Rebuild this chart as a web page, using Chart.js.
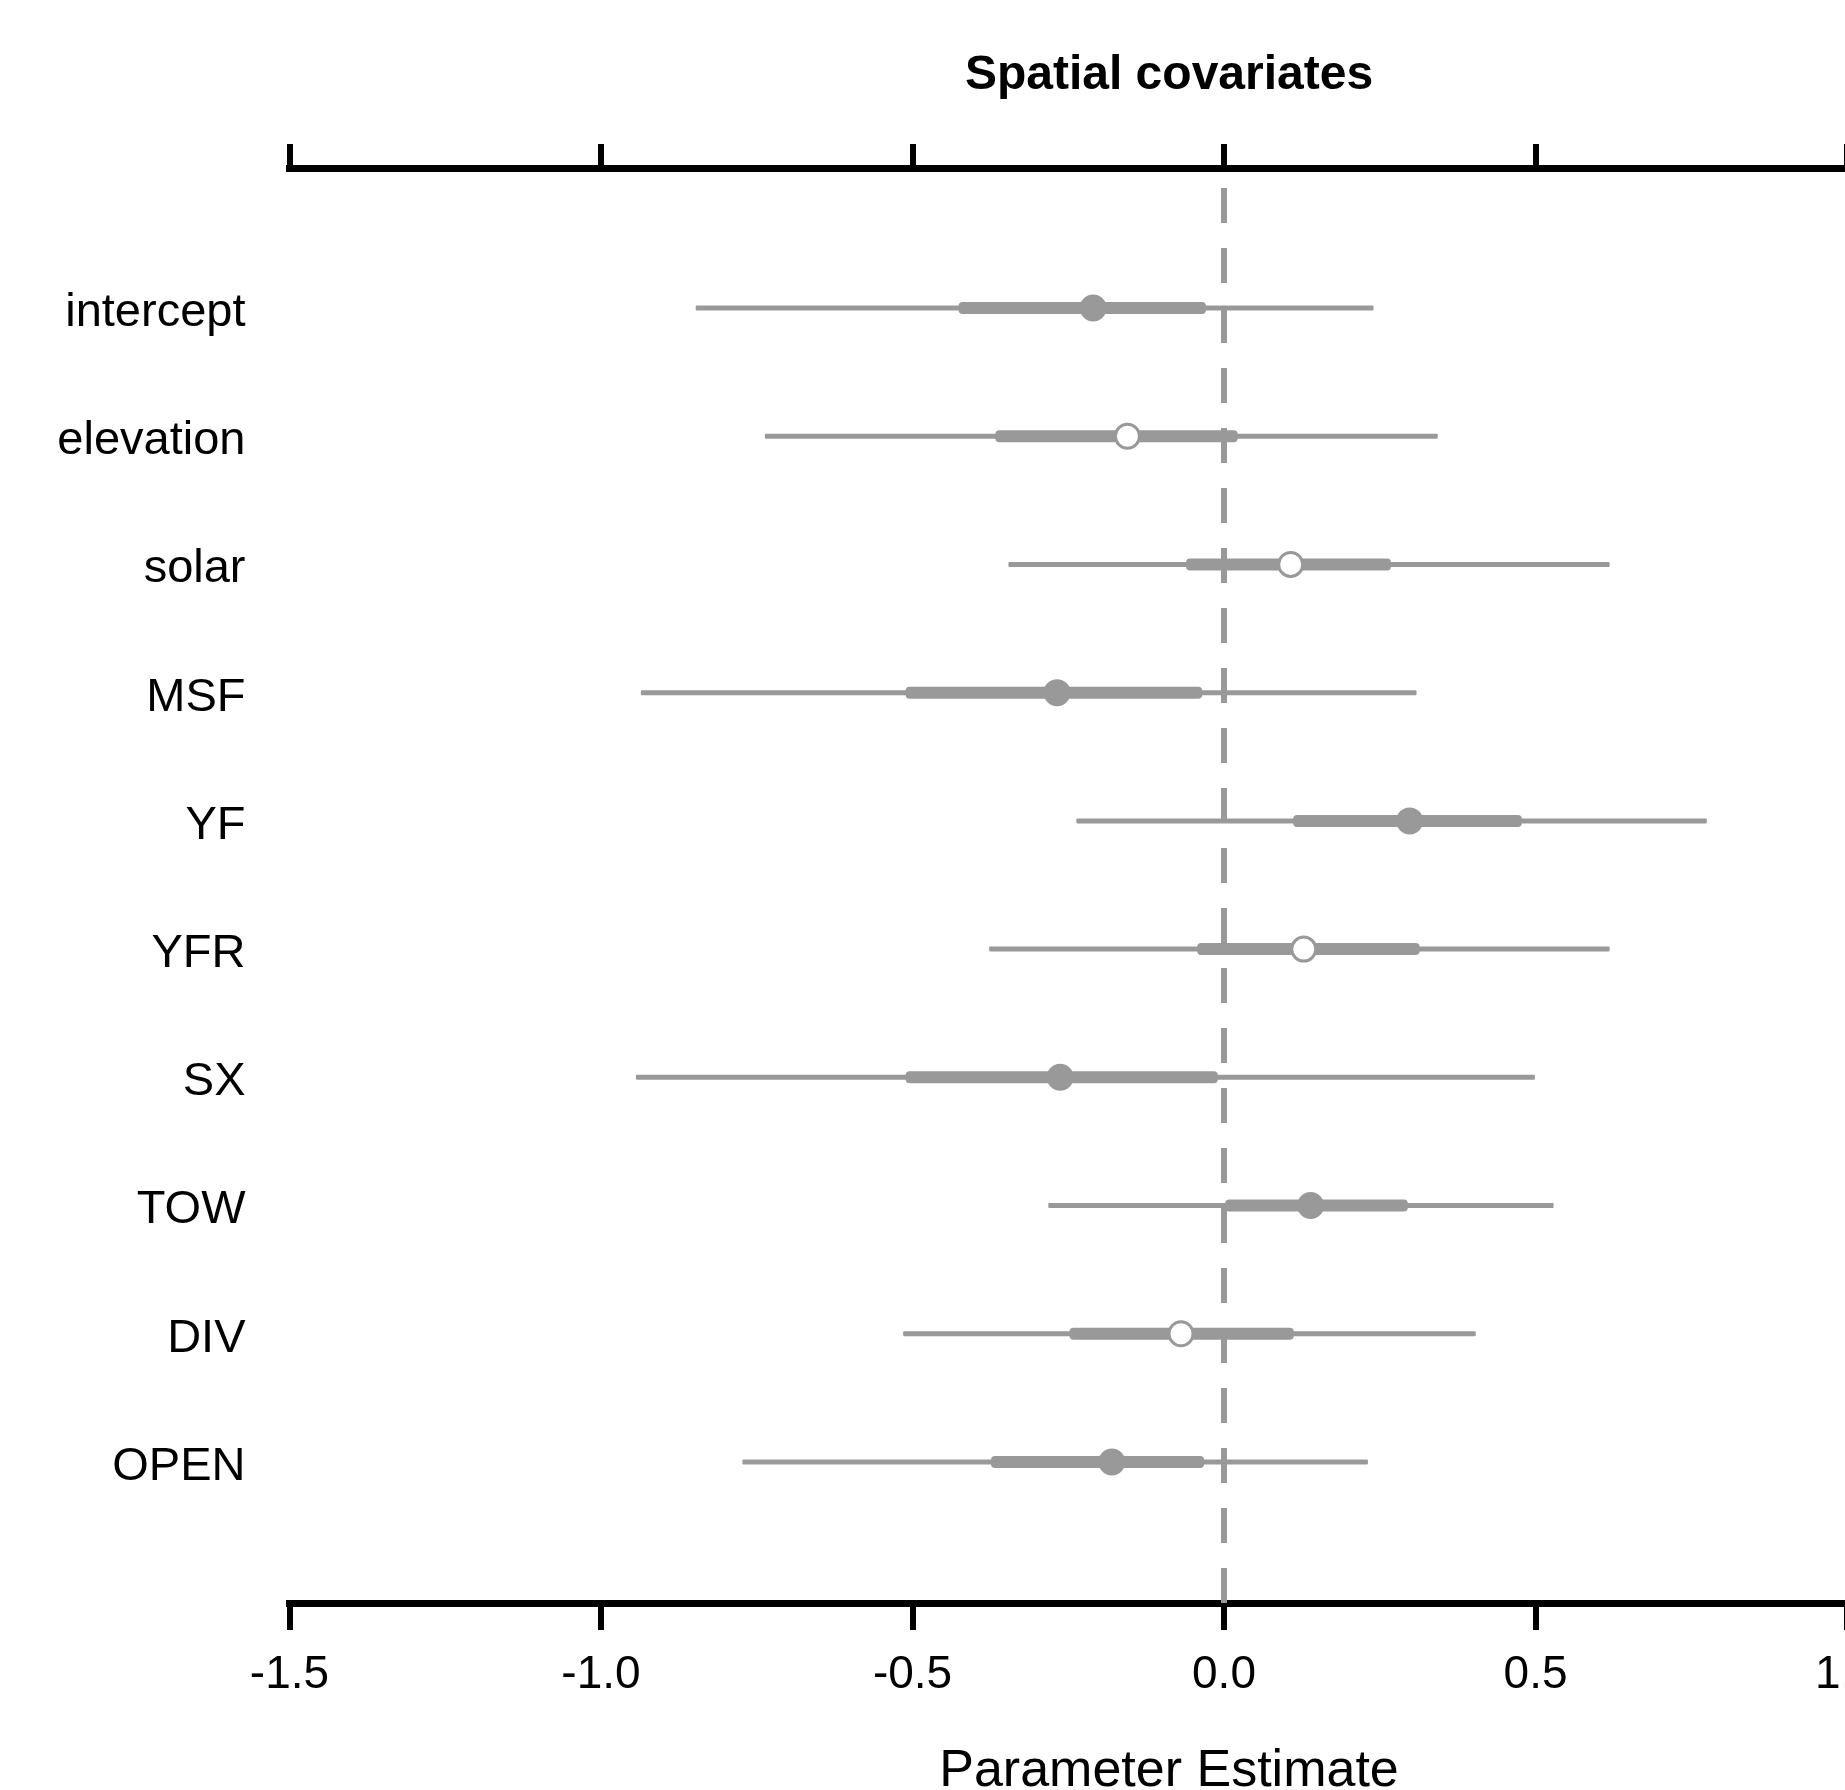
<!DOCTYPE html>
<html>
<head>
<meta charset="utf-8">
<script src="https://cdn.jsdelivr.net/npm/chart.js@4.4.1/dist/chart.umd.min.js"></script>
<style>
html,body{margin:0;padding:0;background:#fff;overflow:hidden}
#wrap{width:1845px;height:1790px;overflow:hidden;position:relative;background:#fff}
canvas{display:block}
</style>
</head>
<body>
<div id="wrap"><canvas id="c" width="2100" height="1790" style="width:2100px;height:1790px"></canvas></div>
<script>
// ---- data ----
const categories = ['intercept','elevation','solar','MSF','YF','YFR','SX','TOW','DIV','OPEN'];
const estimate   = [-0.210,-0.155, 0.107,-0.268, 0.298, 0.128,-0.263, 0.139,-0.069,-0.180];
const lower95    = [-0.848,-0.737,-0.346,-0.936,-0.237,-0.377,-0.944,-0.282,-0.515,-0.773];
const upper95    = [ 0.240, 0.343, 0.619, 0.309, 0.775, 0.619, 0.499, 0.529, 0.404, 0.231];
const lower50    = [-0.426,-0.367,-0.061,-0.511, 0.111,-0.043,-0.511, 0.002,-0.248,-0.374];
const upper50    = [-0.029, 0.022, 0.268,-0.035, 0.478, 0.314,-0.010, 0.295, 0.112,-0.032];
const significant = [true,false,false,true,true,false,true,true,false,true];
const xTicks = [-1.5,-1.0,-0.5,0.0,0.5,1.0];
const xMin = -1.5, xMax = 1.3234;
const yMin = -1.092, yMax = 10.10;

const GRAY = '#999999';
const FONT = "'Liberation Sans', Arial, Helvetica, sans-serif";
const rows = categories.map((_, i) => i);

new Chart(document.getElementById('c'), {
  type: 'bar',
  data: {
    datasets: [
      {
        type: 'scatter',
        label: 'estimate',
        data: rows.map(i => ({x: estimate[i], y: i})),
        pointRadius: 12,
        pointHoverRadius: 12,
        pointBorderWidth: 3,
        pointBackgroundColor: significant.map(s => s ? GRAY : '#ffffff'),
        pointBorderColor: GRAY,
        xAxisID: 'x', yAxisID: 'y'
      },
      {
        type: 'bar',
        label: 'inner interval',
        data: rows.map(i => ({x: [lower50[i], upper50[i]], y: i})),
        backgroundColor: GRAY,
        borderWidth: 0,
        maxBarThickness: 12,
        grouped: false,
        borderSkipped: false,
        borderRadius: 4,
        xAxisID: 'x', yAxisID: 'y'
      },
      {
        type: 'bar',
        label: 'outer interval',
        data: rows.map(i => ({x: [lower95[i], upper95[i]], y: i})),
        backgroundColor: GRAY,
        borderWidth: 0,
        maxBarThickness: 5,
        grouped: false,
        borderSkipped: false,
        borderRadius: 1,
        xAxisID: 'x', yAxisID: 'y'
      },
      {
        type: 'scatter',
        label: 'zero',
        data: [{x: 0, y: yMin}, {x: 0, y: yMax}],
        showLine: true,
        borderColor: GRAY,
        borderWidth: 6,
        borderDash: [35, 25],
        borderDashOffset: 40,
        pointRadius: 0,
        pointHoverRadius: 0,
        xAxisID: 'x', yAxisID: 'y'
      }
    ]
  },
  options: {
    indexAxis: 'y',
    responsive: false,
    animation: false,
    events: [],
    layout: {padding: {left: 0, right: 51.5, top: 0, bottom: 0}},
    plugins: {legend: {display: false}, tooltip: {enabled: false}, title: {display: false}},
    scales: {
      x: {
        type: 'linear', position: 'bottom', min: xMin, max: xMax, offset: false,
        afterBuildTicks: s => { s.ticks = xTicks.map(v => ({value: v})); },
        afterFit: s => { s.height = 187; },
        grid: {drawOnChartArea: false, drawTicks: true, tickLength: 27, lineWidth: 6, color: '#000'},
        border: {display: true, width: 7, color: '#000'},
        ticks: {font: {family: FONT, size: 46}, color: '#000', padding: 18, maxRotation: 0, autoSkip: false,
                callback: v => Number(v).toFixed(1)},
        title: {display: true, text: 'Parameter Estimate', color: '#000',
                font: {family: FONT, size: 52, lineHeight: 0.5}, padding: {top: 0, bottom: 5}}
      },
      x2: {
        type: 'linear', position: 'top', min: xMin, max: xMax, display: true, offset: false,
        afterBuildTicks: s => { s.ticks = xTicks.map(v => ({value: v})); },
        afterFit: s => { s.height = 168; },
        grid: {drawOnChartArea: false, drawTicks: true, tickLength: 24, lineWidth: 6, color: '#000'},
        border: {display: true, width: 7, color: '#000'},
        ticks: {display: false},
        title: {display: true, text: 'Spatial covariates', color: '#000',
                font: {family: FONT, size: 48, weight: 'bold'}, padding: {top: 47, bottom: 0}}
      },
      y: {
        type: 'linear', position: 'left', reverse: true, min: yMin, max: yMax, offset: false,
        afterBuildTicks: s => { s.ticks = categories.map((_, i) => ({value: i})); },
        afterFit: s => { s.width = 289.5; },
        grid: {display: false, drawTicks: true, tickLength: 44, offset: false},
        border: {display: false},
        ticks: {font: {family: FONT, size: 47}, color: '#000', padding: 0, labelOffset: 5, autoSkip: false,
                callback: (v, i) => categories[i]}
      }
    }
  }
});
</script>
</body>
</html>
